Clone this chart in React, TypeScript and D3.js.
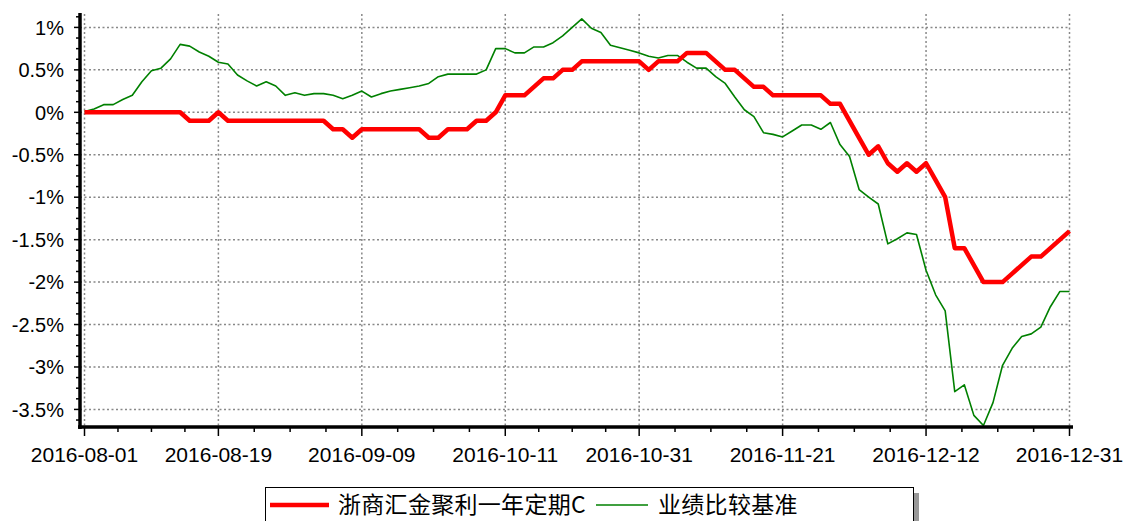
import React from 'react';
import * as d3 from 'd3';

// x axis is by trading day index (0..103)
const xTickLabels = ['2016-08-01', '2016-08-19', '2016-09-09', '2016-10-11', '2016-10-31', '2016-11-21', '2016-12-12', '2016-12-31'];
const xTickIndex = [0, 14, 29, 44, 58, 73, 88, 103];

const yTicks = [1, 0.5, 0, -0.5, -1, -1.5, -2, -2.5, -3, -3.5];

const seriesNames = ['浙商汇金聚利一年定期C', '业绩比较基准'];

// fund C return (%)
const fundValues = [
  0, 0, 0, 0, 0, 0, 0, 0, 0, 0, 0,
  -0.1, -0.1, -0.1, 0,
  -0.1, -0.1, -0.1, -0.1, -0.1, -0.1, -0.1, -0.1, -0.1, -0.1, -0.1,
  -0.2, -0.2, -0.3,
  -0.2, -0.2, -0.2, -0.2, -0.2, -0.2, -0.2,
  -0.3, -0.3, -0.2, -0.2, -0.2, -0.1, -0.1, 0,
  0.2, 0.2, 0.2, 0.3, 0.4, 0.4, 0.5, 0.5,
  0.6, 0.6, 0.6, 0.6, 0.6, 0.6, 0.6, 0.5, 0.6, 0.6, 0.6,
  0.7, 0.7, 0.7, 0.6, 0.5, 0.5, 0.4, 0.3, 0.3,
  0.2, 0.2, 0.2, 0.2, 0.2, 0.2, 0.1, 0.1,
  -0.1, -0.3, -0.5, -0.4, -0.6, -0.7, -0.6, -0.7, -0.6, -0.8, -1.0,
  -1.6, -1.6, -1.8, -2.0, -2.0, -2.0, -1.9, -1.8, -1.7, -1.7, -1.6, -1.5, -1.4,
];

// benchmark return (%)
const benchValues = [
  0.01, 0.04, 0.09, 0.09, 0.15, 0.2, 0.36, 0.49, 0.52, 0.63,
  0.8, 0.78, 0.71, 0.66, 0.59, 0.57, 0.44, 0.37, 0.31, 0.36,
  0.31, 0.2, 0.23, 0.2, 0.22, 0.22, 0.2, 0.16, 0.2, 0.25,
  0.18, 0.22, 0.25, 0.27, 0.29, 0.31, 0.34, 0.42, 0.45, 0.45,
  0.45, 0.45, 0.5, 0.75, 0.75, 0.7, 0.7, 0.77, 0.77, 0.82,
  0.9, 1.0, 1.1, 0.99, 0.94, 0.79, 0.76, 0.73, 0.7, 0.66,
  0.64, 0.67, 0.67, 0.59, 0.52, 0.52, 0.42, 0.34, 0.18, 0.03,
  -0.05, -0.24, -0.26, -0.29, -0.22, -0.15, -0.15, -0.2, -0.12, -0.38,
  -0.52, -0.91, -1.0, -1.08, -1.55, -1.49, -1.42, -1.44, -1.86, -2.15,
  -2.34, -3.29, -3.21, -3.57, -3.69, -3.42, -2.98, -2.78, -2.64, -2.61,
  -2.53, -2.29, -2.11, -2.11,
];

const W = 1123;
const H = 521;
const left = 80;
const right = 1070;
const top = 14;
const bottom = 427;
const font = '"Liberation Sans", Arial, sans-serif';
const cjkFont = '"Noto Sans CJK SC", sans-serif';

const App: React.FC = () => {
  const x = d3.scaleLinear().domain([0, fundValues.length - 1]).range([84.5, 1069.5]);
  const y = d3.scaleLinear().domain([-3.707, 1.158]).range([bottom, top]);

  const line = d3.line<number>()
    .x((d, i) => x(i))
    .y((d) => y(d));

  // minor ticks: 4 per labelled interval
  const xMinor: number[] = [];
  for (let k = 0; k < xTickIndex.length - 1; k++) {
    const a = xTickIndex[k], b = xTickIndex[k + 1];
    for (let j = 1; j < 4; j++) xMinor.push(a + (b - a) * j / 4);
  }
  const yMinor = d3.range(-3.625, 1.15, 0.125).filter((v) => Math.abs(v * 2 - Math.round(v * 2)) > 1e-6);

  const fmt = (v: number) => `${v}%`;

  return (
    <svg width={W} height={H} style={{ position: 'absolute', left: 0, top: 0, background: '#fff' }}>
      {/* grid */}
      <g stroke="#888" strokeWidth={1.5} strokeDasharray="2 2.5">
        {yTicks.map((t) => (
          <line key={`gy${t}`} x1={left} x2={right} y1={y(t)} y2={y(t)} />
        ))}
        {xTickIndex.map((t) => (
          <line key={`gx${t}`} x1={x(t)} x2={x(t)} y1={top} y2={bottom} />
        ))}
      </g>

      {/* series */}
      <path d={line(benchValues) || ''} fill="none" stroke="#008000" strokeWidth={1.6} strokeLinejoin="round" />
      <path d={line(fundValues) || ''} fill="none" stroke="#ff0000" strokeWidth={4.5} strokeLinejoin="round" />

      {/* y axis */}
      <g stroke="#000">
        {yMinor.map((t) => (
          <line key={`ym${t}`} x1={left - 4} x2={left} y1={y(t)} y2={y(t)} strokeWidth={1.5} />
        ))}
        {yTicks.map((t) => (
          <line key={`yt${t}`} x1={left - 6} x2={left} y1={y(t)} y2={y(t)} strokeWidth={1.5} />
        ))}
        <line x1={left} x2={left} y1={top - 1} y2={bottom + 2} strokeWidth={3.5} />
      </g>
      <g fontFamily={font} fontSize={20} fill="#000" textAnchor="end">
        {yTicks.map((t) => (
          <text key={`yl${t}`} x={64} y={y(t)} dy="0.36em">{fmt(t)}</text>
        ))}
      </g>

      {/* x axis */}
      <g stroke="#000">
        {xMinor.map((t) => (
          <line key={`xm${t}`} x1={x(t)} x2={x(t)} y1={bottom} y2={bottom + 5} strokeWidth={1.5} />
        ))}
        {xTickIndex.map((t) => (
          <line key={`xt${t}`} x1={x(t)} x2={x(t)} y1={bottom} y2={bottom + 9} strokeWidth={1.5} />
        ))}
        <line x1={left - 2} x2={right + 3} y1={bottom} y2={bottom} strokeWidth={3.5} />
      </g>
      <g fontFamily={font} fontSize={21} fill="#000" textAnchor="middle">
        {xTickIndex.map((t, i) => (
          <text key={`xl${t}`} x={x(t)} y={462}>{xTickLabels[i]}</text>
        ))}
      </g>

      {/* legend */}
      <rect x={914} y={493} width={5} height={40} fill="#999" />
      <rect x={265.5} y={487.5} width={648} height={45} fill="#fff" stroke="#000" strokeWidth={1} />
      <line x1={270} x2={329} y1={505} y2={505} stroke="#ff0000" strokeWidth={4.5} />
      <text x={338} y={505} dy="0.36em" fontFamily={cjkFont} fontSize={23} letterSpacing={0.3} fill="#000">{seriesNames[0]}</text>
      <line x1={596} x2={648} y1={505} y2={505} stroke="#008000" strokeWidth={1.6} />
      <text x={658} y={505} dy="0.36em" fontFamily={cjkFont} fontSize={23} letterSpacing={0.3} fill="#000">{seriesNames[1]}</text>
    </svg>
  );
};

export default App;
